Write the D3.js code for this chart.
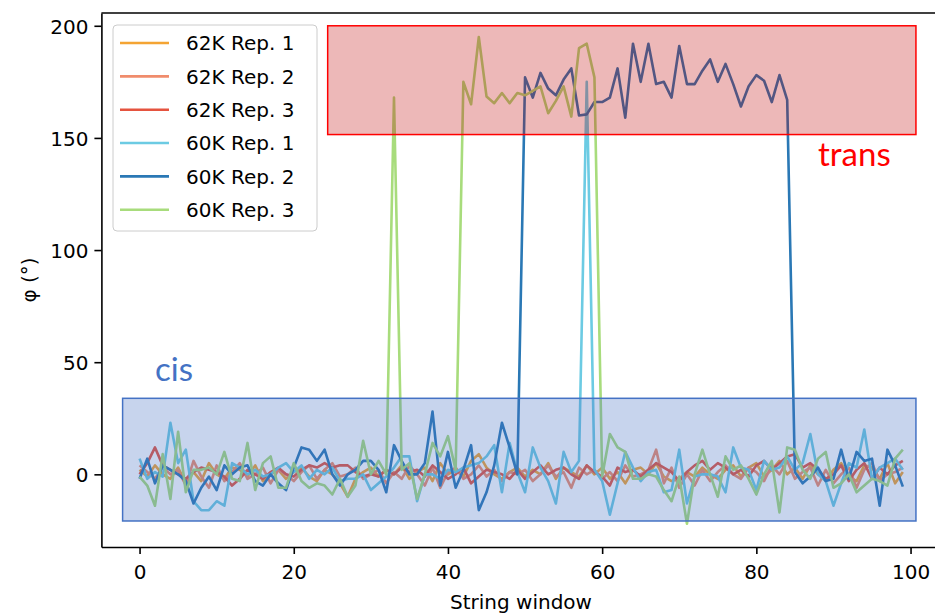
<!DOCTYPE html>
<html>
<head>
<meta charset="utf-8">
<script src="https://cdn.jsdelivr.net/npm/d3@7/dist/d3.min.js"></script>
<style>
  html, body { margin: 0; padding: 0; background: #ffffff; }
  svg { display: block; }
  text { font-family: "DejaVu Sans", sans-serif; fill: #000; }
</style>
</head>
<body>
<svg id="chart" width="935" height="615"></svg>
<script>
// String window index (0..99)
const windows = d3.range(100);

// Series names and colours
const seriesNames = ["62K Rep. 1", "62K Rep. 2", "62K Rep. 3", "60K Rep. 1", "60K Rep. 2", "60K Rep. 3"];
const seriesColors = ["#f4a433", "#f08c6c", "#e5533f", "#6ccbe3", "#2a78b5", "#a8dc7c"];

// Dihedral angle phi (degrees) per string window
const rep62k1 = [
  2, -1, 4, 0, -2, 3, -4, 1, -3, 5,
  0, -2, 3, 2, -1, 4, -3, 0, 2, -2,
  1, 3, -1, -3, 2, 0, -4, -10, -2, 1,
  3, -1, 2, 0, 4, -2, 1, 3, -3, 5,
  0, 2, -1, 6, 9, 3, 0, -2, 1, 3,
  -1, 2, 0, 5, -2, 3, 1, -1, 4, 0,
  3, -2, 1, -4, 2, 3, 0, 5, -1, -3,
  -2, 1, -1, 3, 0, -2, 2, 4, -1, 3,
  5, -1, 2, 6, 0, 3, -2, 4, 0, -3,
  2, 5, -1, -3, 4, 3, -2, 5, -4, 1
];
const rep62k2 = [
  4, 1, -2, 3, 0, 2, -5, 6, -1, -6,
  4, -3, 1, 5, -2, 0, 3, -4, 2, 0,
  -3, 1, 4, -2, 2, 5, -1, 0, 3, -2,
  0, 2, -4, 1, -2, 4, 0, -5, 3, -6,
  1, 3, -2, 0, 4, -1, 2, -3, 1, 0,
  2, -3, 0, 4, -1, 1, -6, 3, 0, 2,
  -2, 1, -3, 4, -1, 0, 2, 11, -4, 3,
  -6, 0, -5, 2, -3, 1, 4, 0, -2, 3,
  1, -3, 4, 0, 6, -2, 1, 3, -5, 2,
  -4, 0, 3, -6, 2, 5, -3, 0, 1, 3
];
const rep62k3 = [
  0, 5, 12, 4, 2, 0, -2, 1, 3, 2,
  1, -1, -5, -2, 2, 0, -2, 1, 3, 0,
  -1, 2, 4, 3, 5, 3, 4, 4, 1, -1,
  0, -1, 2, 0, 3, 1, 2, -1, 4, 1,
  -2, 0, 3, -4, -1, 2, 1, 0, -2, 2,
  -2, 1, 4, 0, 2, 3, 0, -2, 4, 1,
  -1, -5, 3, 1, 2, -1, 2, 5, 3, 1,
  -3, 1, 4, 6, 2, 5, 3, 0, 2, -1,
  4, 6, 2, 5, 8, 9, 3, 5, 2, -2,
  0, 4, -3, 2, 5, -2, 3, 0, 4, 6
];
const rep60k1 = [
  7, -2, 1, -1, 23, 5, 11, -12, -16, -16,
  -12, -14, 5, 3, 0, 2, -1, 0, 3, 5,
  1, 4, -2, 2, 0, 3, -3, -2, -2, 0,
  -7, -4, -1, 3, 8, 8, -12, 0, 0, -2,
  2, 1, 3, 4, 5, 8, 13, -8, 14, 1,
  -8, 12, 3, -3, -13, 10, 1, 6, 175, 2,
  -3, -18, -4, 10, 3, -3, 1, 2, -8, -7,
  11, -13, -1, 0, 0, -1, -8, 12, 3, 2,
  -7, 6, 2, 3, 8, 2, 5, 18, 0, -3,
  -14, -4, 5, 3, 20, -2, 3, 5, 7, 2
];
const rep60k2 = [
  -2, 7, -4, 4, 2, 0, -3, -13, -6, -1,
  -7, 4, 0, 3, 4, -3, -5, 0, -4, -7,
  3, 12, 11, 6, 11, 0, -5, 0, 2, 6,
  6, 2, -8, 13, 6, 0, 0, 5, 28, -5,
  10, -6, 2, 13, -16, -8, 4, 23, 12, 0,
  177, 168, 179, 172, 169, 176, 181, 160, 160.5, 166,
  166, 168, 181, 159, 192, 175, 192, 174, 175, 168,
  191, 174, 174, 180, 185, 175, 183, 174, 164, 173,
  178, 175.5, 166, 178, 167, 1, -4, -1, 3, -3,
  -2, 11, -2, 10, 6, 7, -14, 11, 4, -5.5
];
const rep60k3 = [
  -1, -5, -14, 9, -11, 19, -8, 2, 2, 3,
  0, 10, -2, -3, 14, -7, 5, 8, -6, -6,
  5, -3, -6, -4, -5, -9, -2, -10, -5, 15,
  0, 6, 0, 168, 2, 5, -11, 0, 14, 8,
  17, 2, 175, 165, 195, 168.5, 165.5, 170, 165.5, 170,
  169, 171, 173, 161, 166.5, 173, 159.5, 190, 192, 177,
  -1, 18, 12, 10, -2, -2, 0, -1, -7, -12,
  -1, -22, 0, 11, 0, -10, 8, 2, 4, -2,
  -9, 0, 6, -17, 12, 11, 2, -2, 7, 10,
  -6, -4, 0, -8, -5, -2, -3, -5, 7, 11
];
const seriesValues = [rep62k1, rep62k2, rep62k3, rep60k1, rep60k2, rep60k3];

// Axis ticks
const xTicks = [0, 20, 40, 60, 80, 100];
const yTicks = [0, 50, 100, 150, 200];

// Shaded conformation bands: [x0, x1, y0, y1] in data units
const transBand = [24.4, 100.7, 151.5, 200];
const cisBand = [-2.2, 100.7, -20.8, 33.9];

const svg = d3.select("#chart");

const x = d3.scaleLinear().domain([-4.95, 103.95]).range([101.4, 941]);
const y = d3.scaleLinear().domain([-32.4, 205.7]).range([547, 13]);

// Data lines
const line = d3.line().x((d, i) => x(windows[i])).y(d => y(d));
const linesG = svg.append("g");
seriesValues.forEach((vals, k) => {
  linesG.append("path")
    .datum(vals)
    .attr("d", line)
    .attr("fill", "none")
    .attr("stroke", seriesColors[k])
    .attr("stroke-width", 2.6)
    .attr("stroke-linejoin", "round");
});

// Translucent bands over the traces
function band(b, fill, alpha, stroke) {
  const g = svg.append("g");
  g.append("rect")
    .attr("x", x(b[0])).attr("y", y(b[3]))
    .attr("width", x(b[1]) - x(b[0])).attr("height", y(b[2]) - y(b[3]))
    .attr("fill", fill).attr("fill-opacity", alpha);
  g.append("rect")
    .attr("x", x(b[0])).attr("y", y(b[3]))
    .attr("width", x(b[1]) - x(b[0])).attr("height", y(b[2]) - y(b[3]))
    .attr("fill", "none").attr("stroke", stroke).attr("stroke-width", 1.5);
}
band(transBand, "#c00000", 0.28, "#ff0000");
band(cisBand, "#4472c4", 0.3, "#4472c4");

svg.append("text")
  .attr("x", 818).attr("y", 166)
  .style("font-family", "Lato, 'Open Sans', sans-serif")
  .style("font-size", "33px")
  .style("fill", "#ff0000")
  .text("trans");
svg.append("text")
  .attr("x", 155).attr("y", 381)
  .style("font-family", "Lato, 'Open Sans', sans-serif")
  .style("font-size", "33px")
  .style("fill", "#4472c4")
  .text("cis");

// Axes
const xAxis = d3.axisBottom(x).tickValues(xTicks).tickSize(7).tickSizeOuter(0).tickPadding(6);
const yAxis = d3.axisLeft(y).tickValues(yTicks).tickSize(7).tickSizeOuter(0).tickPadding(6);

const gx = svg.append("g").attr("transform", "translate(0,547)").call(xAxis);
const gy = svg.append("g").attr("transform", "translate(101.4,0)").call(yAxis);
[gx, gy].forEach(g => {
  g.select(".domain").attr("stroke", "#000").attr("stroke-width", 1.6);
  g.selectAll(".tick line").attr("stroke", "#000").attr("stroke-width", 1.6);
  g.selectAll(".tick text")
    .style("font-family", "'DejaVu Sans', sans-serif")
    .style("font-size", "20px")
    .attr("fill", "#000");
});
gx.selectAll(".tick text").attr("dy", "0.95em");
gy.selectAll(".tick text").attr("dy", "0.38em");

// Top spine
svg.append("line")
  .attr("x1", x(-4.95)).attr("x2", 941)
  .attr("y1", 13).attr("y2", 13)
  .attr("stroke", "#000").attr("stroke-width", 1.6);

// Axis labels
svg.append("text")
  .attr("x", 521).attr("y", 609)
  .attr("text-anchor", "middle")
  .style("font-size", "20px")
  .text("String window");
svg.append("text")
  .attr("transform", "translate(36,280) rotate(-90)")
  .attr("text-anchor", "middle")
  .style("font-size", "20px")
  .text("φ (°)");

// Legend
const legend = svg.append("g");
legend.append("rect")
  .attr("x", 113).attr("y", 25).attr("width", 204).attr("height", 206)
  .attr("rx", 4).attr("ry", 4)
  .attr("fill", "#ffffff").attr("fill-opacity", 0.8)
  .attr("stroke", "#cccccc").attr("stroke-width", 1);
seriesNames.forEach((name, k) => {
  const cy = 43 + k * 33.35;
  legend.append("line")
    .attr("x1", 120).attr("x2", 169)
    .attr("y1", cy).attr("y2", cy)
    .attr("stroke", seriesColors[k]).attr("stroke-width", 2.6);
  legend.append("text")
    .attr("x", 186).attr("y", cy + 7.3)
    .style("font-size", "20px")
    .text(name);
});
</script>
</body>
</html>
